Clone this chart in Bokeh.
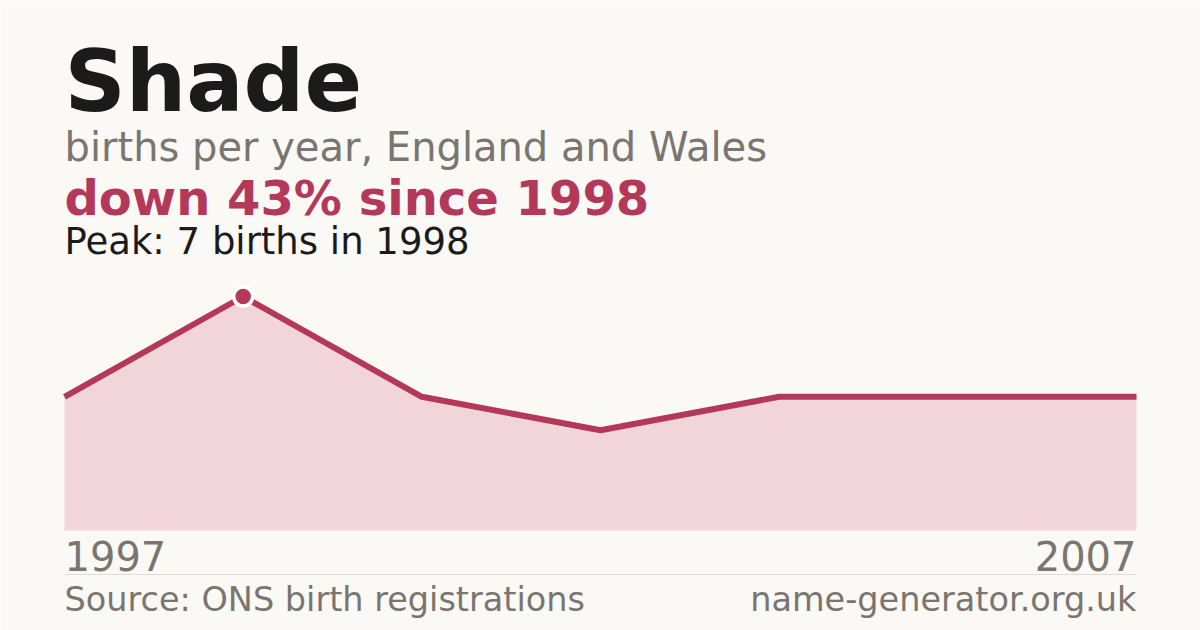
from bokeh.plotting import figure
from bokeh.models import Label, BoxAnnotation, Range1d
from bokeh.embed import file_html
from bokeh.resources import INLINE

# ---- data ----
years = [1997, 1998, 2000, 2002, 2003, 2005, 2007]
births = [4, 7, 4, 3, 4, 4, 4]
title = "Shade"
subtitle = "births per year, England and Wales"
source_text = "Source: ONS birth registrations"
site_text = "name-generator.org.uk"

# ---- style ----
BG = "#FAF9F5"
RED = "#B3385A"
FILL = "#F1D5DB"
GREY = "#7A756E"
DARK = "#1B1B1B"
RULE = "#DEDBD4"
FONT = "DejaVu Sans"

W, H = 1200, 630
LEFT, RIGHT = 64, 1136        # plot x extent (canvas px)
BASE, TOP = 100, 334          # baseline and peak heights from canvas bottom
K = 0.37                      # baseline compensation factor

n = len(years)
idx = list(range(n))
peak_i = births.index(max(births))
peak_val = births[peak_i]
peak_year = years[peak_i]
last_val = births[-1]
change = round((last_val - peak_val) / peak_val * 100)

ppx = (RIGHT - LEFT) / (n - 1)
ppy = (TOP - BASE) / peak_val

p = figure(width=W, height=H,
           x_range=Range1d(-LEFT / ppx, (n - 1) + (W - RIGHT) / ppx),
           y_range=Range1d(-BASE / ppy, (H - BASE) / ppy),
           output_backend="svg", toolbar_location=None, min_border=0,
           x_axis_location=None, y_axis_location=None,
           background_fill_color=BG, border_fill_color=BG,
           outline_line_color=None)
p.grid.visible = False

p.varea(x=idx, y1=[0] * n, y2=births, fill_color=FILL)
p.line(idx, births, line_color=RED, line_width=6)
p.scatter([peak_i], [peak_val], size=19, fill_color=RED,
          line_color="white", line_width=3.5)


def lab(text, x, baseline, size, color, bold=False, align="left", xu="screen"):
    y = H - baseline + K * size
    p.add_layout(Label(x=x, y=y, x_units=xu, y_units="screen", text=text,
                       text_font=FONT, text_font_size=f"{size}px",
                       text_font_style="bold" if bold else "normal",
                       text_color=color, text_align=align,
                       text_baseline="alphabetic"))


lab(title, LEFT, 112, 85, DARK, bold=True)
lab(subtitle, LEFT, 161, 40, GREY)
direction = "down" if change < 0 else "up"
lab(f"{direction} {abs(change)}% since {peak_year}", LEFT, 215, 48, RED, bold=True)
lab(f"Peak: {peak_val} births in {peak_year}", LEFT, 255, 37, DARK)

lab(str(years[0]), 0, 570, 40, GREY, xu="data")
lab(str(years[-1]), n - 1, 570, 40, GREY, align="right", xu="data")

p.add_layout(BoxAnnotation(left=0, right=n - 1, left_units="data", right_units="data",
                           bottom=H - 574.5, top=H - 573.5, bottom_units="screen", top_units="screen",
                           fill_color=RULE, fill_alpha=1, line_color=None))

lab(source_text, LEFT, 611, 33.5, GREY)
lab(site_text, RIGHT, 611, 33.5, GREY, align="right")

html = file_html(p, INLINE, title=title)
html = html.replace("<body", f'<body style="margin:0;background-color:{BG}"', 1)
open("out.html", "w").write(html)
